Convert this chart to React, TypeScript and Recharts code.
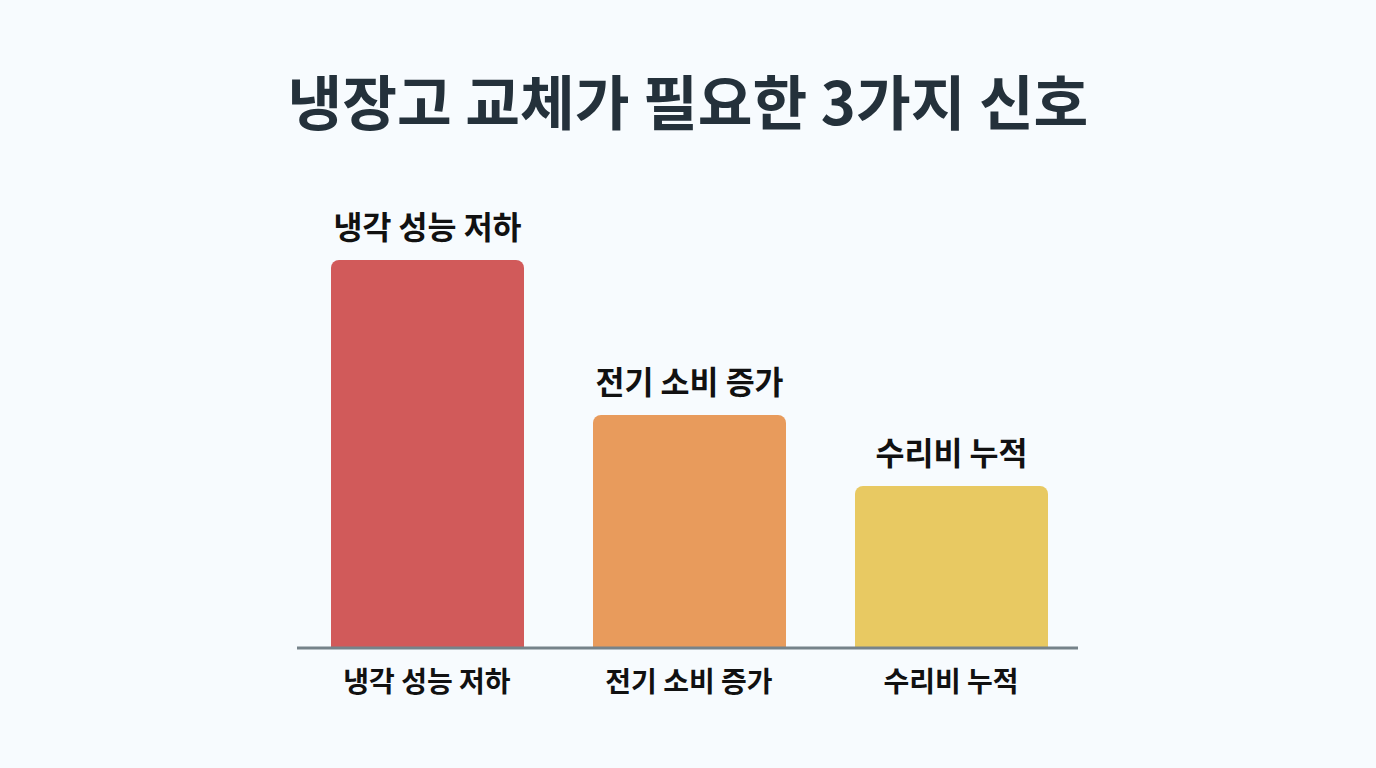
import { BarChart, Bar, XAxis, YAxis, Cell, LabelList } from "recharts";

const categories = ["냉각 성능 저하", "전기 소비 증가", "수리비 누적"];
const values = [388, 233, 162];
const colors = ["#d15a5a", "#e89b5c", "#e8c962"];
const data = categories.map((name, i) => ({ name, value: values[i] }));
const font = '"Noto Sans CJK KR", sans-serif';

export default function App() {
  return (
    <div style={{ position: "absolute", left: 0, top: 0, width: 1376, height: 768, background: "#f7fbfe", fontFamily: font }}>
      <div style={{ position: "absolute", left: 0, width: 1376, top: 57, textAlign: "center", fontSize: 59.5, fontWeight: 700, color: "#24313b", lineHeight: "84px" }}>
        냉장고 교체가 필요한 3가지 신호
      </div>
      <BarChart
        width={1376}
        height={768}
        data={data}
        margin={{ top: 148, right: 298, bottom: 90, left: 297 }}
        barSize={193}
        style={{ position: "absolute", left: 0, top: 0 }}
      >
        <YAxis hide domain={[0, 500]} />
        <Bar dataKey="value" isAnimationActive={false} radius={[8, 8, 0, 0]}>
          {data.map((d, i) => (
            <Cell key={d.name} fill={colors[i]} />
          ))}
          <LabelList dataKey="name" position="top" offset={21} fill="#111" fontSize={31.5} fontWeight={700} fontFamily={font} />
        </Bar>
        <XAxis
          dataKey="name"
          padding={{ left: -1, right: -4 }}
          tickLine={false}
          axisLine={{ stroke: "#76838a", strokeWidth: 3 }}
          tick={{ fill: "#111", fontSize: 28, fontWeight: 700, fontFamily: font }}
          tickMargin={18}
          interval={0}
        />
      </BarChart>
    </div>
  );
}
